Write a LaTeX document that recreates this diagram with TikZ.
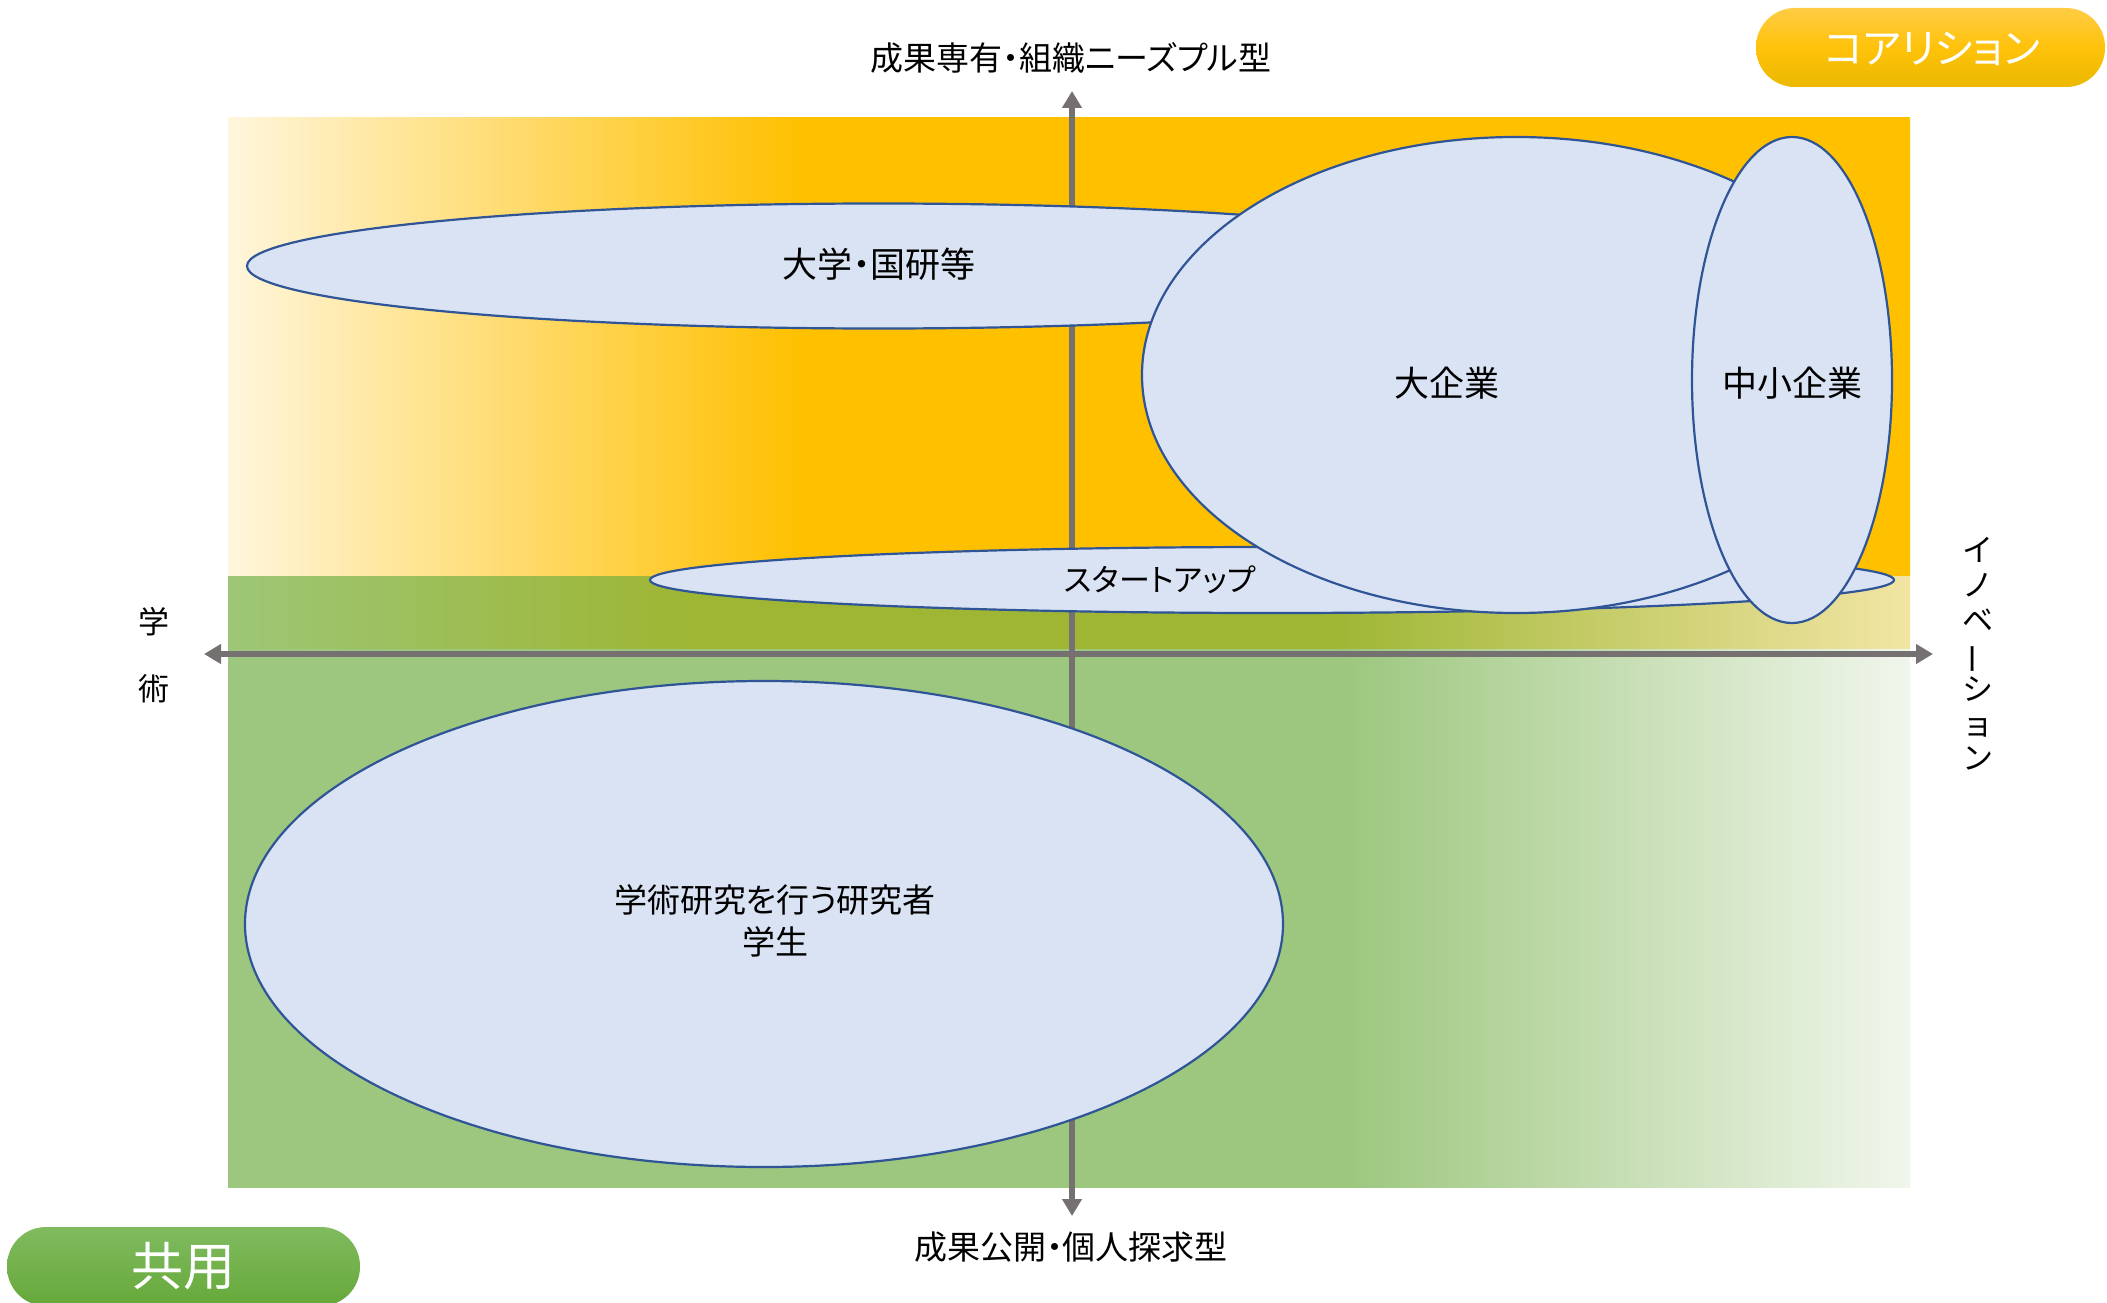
\documentclass[tikz,border=0pt]{standalone}
\usepackage{fontspec}
\setmainfont[RawFeature=+palt]{Noto Sans CJK JP}
\newfontfamily\vertfont{Noto Sans CJK JP}
\usetikzlibrary{shapes.geometric,arrows.meta}
\definecolor{cream}{HTML}{FFF6DC}
\definecolor{orng}{HTML}{FFC000}
\definecolor{grn}{HTML}{9DC77E}
\definecolor{grnlt}{HTML}{F1F6EC}
\definecolor{stripL}{HTML}{9DC676}
\definecolor{olive}{HTML}{9EB634}
\definecolor{stripR}{HTML}{F2E5A4}
\definecolor{axisgray}{HTML}{767171}
\definecolor{blobfill}{HTML}{DAE3F3}
\definecolor{blobline}{HTML}{2F5597}
\definecolor{ybTop}{HTML}{FFCC44}
\definecolor{ybMid}{HTML}{FFC20A}
\definecolor{ybBot}{HTML}{EBB800}
\definecolor{gbTop}{HTML}{80BB5F}
\definecolor{gbBot}{HTML}{66A83A}
\pgfdeclarehorizontalshading{topfade}{100bp}{color(0bp)=(cream); color(25bp)=(cream); color(42bp)=(orng); color(100bp)=(orng)}
\pgfdeclarehorizontalshading{botfade}{100bp}{color(0bp)=(grn); color(25bp)=(grn); color(58.2bp)=(grn); color(75bp)=(grnlt); color(100bp)=(grnlt)}
\pgfdeclarehorizontalshading{stripfade}{100bp}{color(0bp)=(stripL); color(25bp)=(stripL); color(38.7bp)=(olive); color(57.8bp)=(olive); color(75bp)=(stripR); color(100bp)=(stripR)}
\tikzset{
  blob/.style={ellipse, draw=blobline, fill=blobfill, line width=2.2pt, inner sep=0pt},
  lbl/.style={font=\fontsize{35}{40}\selectfont, text=black, inner sep=0pt},
  axislbl/.style={font=\fontsize{33}{38}\selectfont, text=black, inner sep=0pt},
  axisline/.style={draw=axisgray, line width=6pt, {Triangle[width=19pt,length=17pt]}-{Triangle[width=19pt,length=17pt]}},
}
\begin{document}
\begin{tikzpicture}[x=1pt,y=-1pt]
\useasboundingbox (0,0) rectangle (2107,1303);
\begin{scope}
\clip (0,0) rectangle (2107,1303);
% backgrounds
\shade[shading=topfade] (228,118) rectangle (1910,576);
\shade[shading=botfade] (228,576) rectangle (1910,1187);
\shade[shading=stripfade] (228,576) rectangle (1910,648);
% axes
\coordinate (vtop) at (1072,91);
\coordinate (vbot) at (1072,1216);
\coordinate (hleft) at (204,654);
\coordinate (hright) at (1933,654);
\draw[axisline] (vbot) -- (vtop);
\draw[axisline] (hleft) -- (hright);
% ellipses
\node[blob, minimum width=1264pt, minimum height=125pt] (univ) at (879,266) {};
\node[lbl] (univt) at (879,264) {大学・国研等};
\node[blob, minimum width=1244pt, minimum height=66pt] (start) at (1272,580) {};
\node[lbl, font=\fontsize{31}{36}\selectfont] (startt) at (1160,580) {スタートアップ};
\node[blob, minimum width=748pt, minimum height=476pt] (large) at (1516,375) {};
\node[lbl] (larget) at (1447,383) {大企業};
\node[blob, minimum width=200pt, minimum height=486pt] (sme) at (1792,380) {};
\node[lbl] (smet) at (1792,383) {中小企業};
\node[blob, minimum width=1038pt, minimum height=486pt] (acad) at (764,924) {};
\node[lbl, align=center, font=\fontsize{33}{42}\selectfont] (acadt) at (775,921) {学術研究を行う研究者\\学生};
% axis labels
\node[axislbl] (toplbl) at (1071,58) {成果専有・組織ニーズプル型};
\node[axislbl] (botlbl) at (1071,1247) {成果公開・個人探求型};
\node[axislbl, align=center, font=\vertfont\fontsize{31}{67}\selectfont] (leftlbl) at (154,655) {学\\術};
\node[axislbl, align=center, font=\vertfont\fontsize{31}{34.7}\selectfont] (rightlbl) at (1978,654) {イ\\ノ\\ベ\\\rotatebox[origin=c]{90}{ー}\\シ\\ョ\\ン};
% badges
\shade[top color=ybTop, bottom color=ybBot, middle color=ybMid, rounded corners=39pt] (1756,8) rectangle (2105,87);
\node[font=\fontsize{41}{46}\selectfont, text=white, inner sep=0pt] (coal) at (1932,49) {コアリション};
\shade[top color=gbTop, bottom color=gbBot, middle color=gbTop!50!gbBot, rounded corners=39pt] (7,1227) rectangle (360,1306);
\node[font=\fontsize{52}{56}\selectfont, text=white, inner sep=0pt] (share) at (183,1266) {共用};
\end{scope}
\end{tikzpicture}
\end{document}
